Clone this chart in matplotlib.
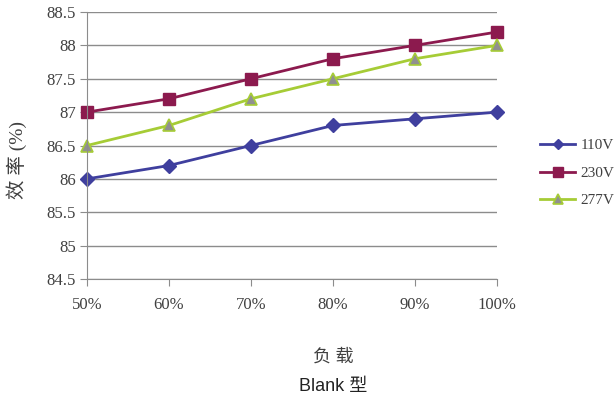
import matplotlib.pyplot as plt

# Data
loads = ['50%', '60%', '70%', '80%', '90%', '100%']
eff_110v = [86.0, 86.2, 86.5, 86.8, 86.9, 87.0]
eff_230v = [87.0, 87.2, 87.5, 87.8, 88.0, 88.2]
eff_277v = [86.5, 86.8, 87.2, 87.5, 87.8, 88.0]
yticks = [84.5, 85, 85.5, 86, 86.5, 87, 87.5, 88, 88.5]
ytick_labels = ['84.5', '85', '85.5', '86', '86.5', '87', '87.5', '88', '88.5']

plt.rcParams['font.family'] = ['Liberation Serif', 'Noto Sans CJK SC']

fig = plt.figure(figsize=(6.16, 4.01), dpi=100)
ax = fig.add_axes([87 / 616, 1 - 279 / 401, 410 / 616, 267 / 401])

x = list(range(len(loads)))
ax.plot(x, eff_110v, color='#3f3f9e', lw=2, marker='D', ms=7,
        mfc='#3f3f9e', mec='#3f3f9e', label='110V')
ax.plot(x, eff_230v, color='#8c1a4e', lw=2, marker='s', ms=9,
        mfc='#8c1a4e', mec='#8c1a4e', label='230V')
ax.plot(x, eff_277v, color='#a6cc36', lw=2, marker='^', ms=9,
        mfc='#909090', mec='#a6cc36', mew=1.2, label='277V')

ax.set_xlim(0, len(loads) - 1)
ax.set_ylim(84.5, 88.5)
ax.set_xticks(x)
ax.set_xticklabels(loads)
ax.set_yticks(yticks)
ax.set_yticklabels(ytick_labels)
ax.yaxis.grid(True, color='#8c8c8c', lw=1)
ax.set_axisbelow(True)

for s in ['top', 'right']:
    ax.spines[s].set_visible(False)
for s in ['left', 'bottom']:
    ax.spines[s].set_color('#8c8c8c')
ax.tick_params(axis='x', direction='out', length=5, color='#8c8c8c',
               labelsize=12, labelcolor='#404040', pad=8)
ax.tick_params(axis='y', direction='out', length=5, color='#8c8c8c',
               labelsize=12, labelcolor='#404040', pad=3)
for line in ax.lines:
    line.set_clip_on(False)

leg = ax.legend(loc='center left', bbox_to_anchor=(540 / 616, 1 - 173 / 401),
                bbox_transform=fig.transFigure, frameon=False, fontsize=11,
                handlelength=2.3, handletextpad=0.35, labelspacing=0.9,
                borderaxespad=0, borderpad=0, markerscale=0.8)
for t in leg.get_texts():
    t.set_color('#404040')

fig.text(17 / 616, 1 - 160 / 401, '效 率 (%)', rotation=90, ha='center',
         va='center', fontsize=14, color='#404040')
fig.text(333 / 616, 1 - 357 / 401, '负 载', ha='center', va='center',
         fontsize=13, color='#404040')
fig.text(333 / 616, 1 - 387 / 401, 'Blank 型', ha='center', va='center',
         fontsize=13, color='#222222', family=['Liberation Sans', 'Noto Sans CJK SC'])

fig.savefig('out.png', dpi=100)
